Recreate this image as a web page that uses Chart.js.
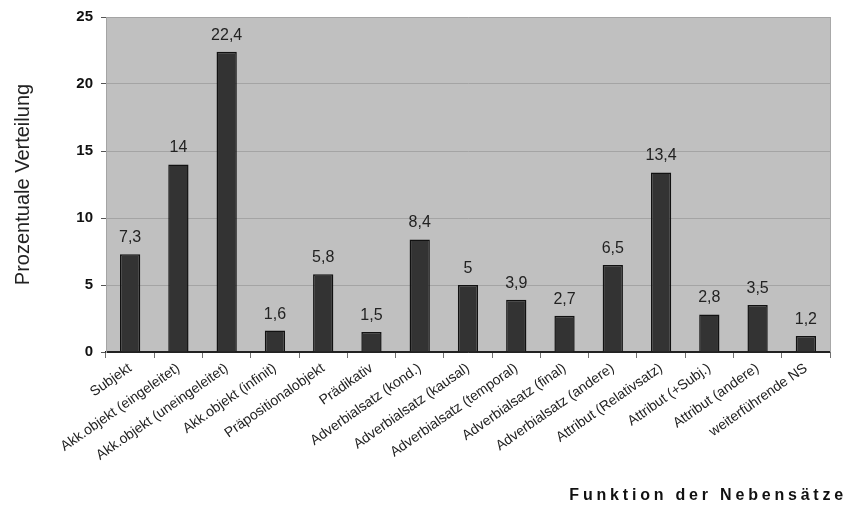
<!DOCTYPE html>
<html>
<head>
<meta charset="utf-8">
<script src="https://cdn.jsdelivr.net/npm/chart.js@4/dist/chart.umd.min.js"></script>
<style>
  html, body { margin: 0; padding: 0; background: #ffffff; }
  #wrap { width: 847px; height: 508px; position: relative; }
</style>
</head>
<body>
<div id="wrap"><canvas id="chart"></canvas></div>
<script>
// Function of subordinate clauses and their percentage share
const categories = [
  'Subjekt',
  'Akk.objekt (eingeleitet)',
  'Akk.objekt (uneingeleitet)',
  'Akk.objekt (infinit)',
  'Präpositionalobjekt',
  'Prädikativ',
  'Adverbialsatz (kond.)',
  'Adverbialsatz (kausal)',
  'Adverbialsatz (temporal)',
  'Adverbialsatz (final)',
  'Adverbialsatz (andere)',
  'Attribut (Relativsatz)',
  'Attribut (+Subj.)',
  'Attribut (andere)',
  'weiterführende NS'
];
const shares = [7.3, 14, 22.4, 1.6, 5.8, 1.5, 8.4, 5, 3.9, 2.7, 6.5, 13.4, 2.8, 3.5, 1.2];
const yTicks = [0, 5, 10, 15, 20, 25];
const yAxisTitle = 'Prozentuale Verteilung';
const xAxisTitle = 'Funktion der Nebensätze';

const FONT = "Arial, 'Liberation Sans', Helvetica, sans-serif";

// grey plot background and right frame line
const plotBackground = {
  id: 'plotBackground',
  beforeDraw(chart) {
    const { ctx, chartArea: a } = chart;
    ctx.save();
    ctx.fillStyle = '#c0c0c0';
    ctx.fillRect(a.left, a.top, a.right - a.left, a.bottom - a.top);
    ctx.restore();
  },
  beforeDatasetsDraw(chart) {
    const { ctx, chartArea: a } = chart;
    ctx.save();
    ctx.strokeStyle = '#a8a8a8';
    ctx.lineWidth = 1;
    ctx.beginPath();
    ctx.moveTo(a.right + 0.5, a.top);
    ctx.lineTo(a.right + 0.5, a.bottom);
    ctx.stroke();
    ctx.restore();
  }
};

// value above each bar, German decimal comma
const valueLabels = {
  id: 'valueLabels',
  afterDatasetsDraw(chart) {
    const { ctx } = chart;
    const meta = chart.getDatasetMeta(0);
    ctx.save();
    ctx.font = '16px ' + FONT;
    ctx.fillStyle = '#222';
    ctx.textAlign = 'center';
    ctx.textBaseline = 'alphabetic';
    meta.data.forEach((bar, i) => {
      const txt = String(shares[i]).replace('.', ',');
      ctx.fillText(txt, bar.x, bar.y - 12);
    });
    ctx.restore();
  }
};

// spaced bold axis title at bottom right
const xTitle = {
  id: 'xTitle',
  afterDraw(chart) {
    const { ctx } = chart;
    ctx.save();
    ctx.font = 'bold 16px ' + FONT;
    ctx.fillStyle = '#111';
    ctx.letterSpacing = '3.8px';
    ctx.textAlign = 'right';
    ctx.textBaseline = 'middle';
    ctx.fillText(xAxisTitle, chart.width, 496);
    ctx.restore();
  }
};

new Chart(document.getElementById('chart'), {
  type: 'bar',
  data: {
    labels: categories,
    datasets: [{
      data: shares,
      backgroundColor: '#333333',
      borderColor: '#111111',
      borderWidth: 1.5,
      categoryPercentage: 1,
      barPercentage: 0.42
    }]
  },
  options: {
    responsive: true,
    maintainAspectRatio: false,
    animation: false,
    devicePixelRatio: 1,
    layout: { padding: { top: 16, right: 17, left: 0, bottom: 0 } },
    plugins: {
      legend: { display: false },
      tooltip: { enabled: false }
    },
    scales: {
      x: {
        grid: {
          display: true,
          drawOnChartArea: false,
          offset: true,
          tickLength: 6,
          color: '#707070'
        },
        border: { display: true, color: '#222', width: 1.5 },
        ticks: {
          autoSkip: false,
          minRotation: 35,
          maxRotation: 35,
          padding: 2,
          color: '#222',
          font: { family: FONT, size: 14 }
        },
        afterFit(scale) { scale.height = 156; }
      },
      y: {
        min: 0,
        max: 25,
        afterBuildTicks(scale) { scale.ticks = yTicks.map(v => ({ value: v })); },
        grid: {
          color: ctx => ctx.tick && ctx.tick.value === 0 ? '#222' : '#a4a4a4',
          tickColor: '#555',
          tickLength: 5,
          lineWidth: 1
        },
        border: { display: true, color: '#a4a4a4' },
        ticks: {
          padding: 8,
          color: '#111',
          font: { family: FONT, size: 15, weight: 'bold' }
        },
        title: {
          display: true,
          text: yAxisTitle,
          color: '#222',
          font: { family: FONT, size: 20, lineHeight: 1.2 },
          padding: { top: 11, bottom: 0 }
        },
        afterFit(scale) { scale.width = 106; }
      }
    }
  },
  plugins: [plotBackground, valueLabels, xTitle]
});
</script>
</body>
</html>
